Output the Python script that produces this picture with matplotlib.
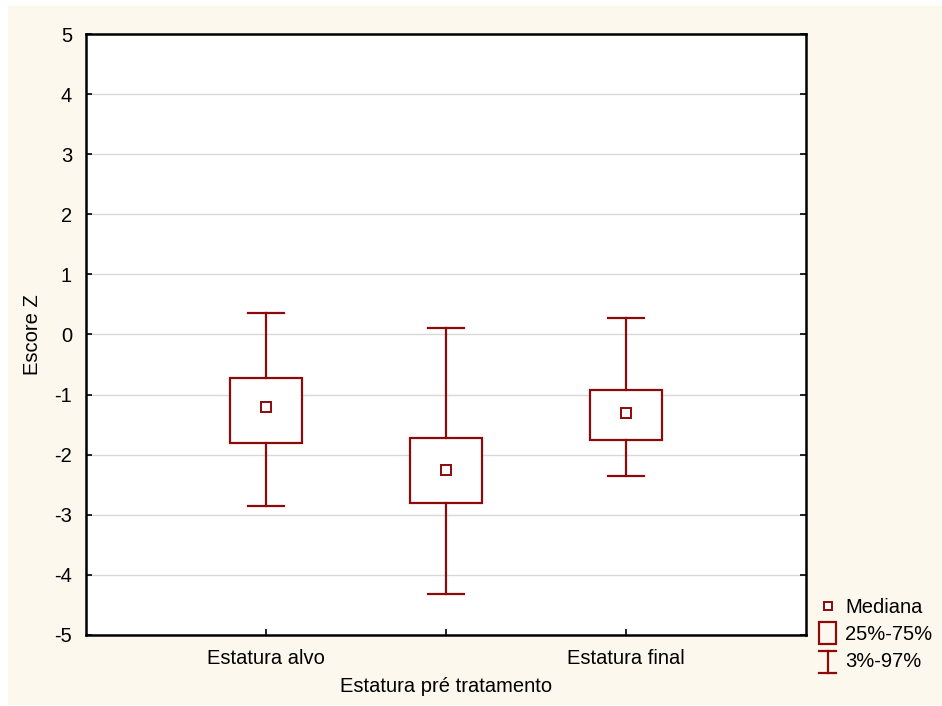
import matplotlib
matplotlib.use("Agg")
import matplotlib.pyplot as plt
import matplotlib.transforms as mtransforms
from matplotlib.patches import Rectangle
from matplotlib.lines import Line2D
from matplotlib.legend_handler import HandlerBase

# data
categories = ["Estatura alvo", "Estatura pré tratamento", "Estatura final"]
medians = [-1.21, -2.26, -1.31]
q25 = [-1.80, -2.80, -1.75]
q75 = [-0.72, -1.73, -0.92]
p03 = [-2.85, -4.31, -2.35]
p97 = [0.36, 0.10, 0.28]

red = "#8B0A0A"
cream = "#FDF8EE"
fs = 14.5

plt.rcParams["font.family"] = ["Liberation Sans", "DejaVu Sans"]
plt.rcParams["axes.unicode_minus"] = False

fig = plt.figure(figsize=(9.42, 7.06), dpi=100, facecolor="white")
fig.patches.append(Rectangle((8 / 942, 1 / 706), 934 / 942, 699 / 706,
                             transform=fig.transFigure, facecolor=cream,
                             edgecolor="none", zorder=-10))
ax = fig.add_axes([86 / 942, 1 - 635 / 706, 720 / 942, 601 / 706])
ax.set_facecolor("white")

pos = [1, 2, 3]
bw = 0.4
cw = 0.2
for x, m, lo, hi, wlo, whi in zip(pos, medians, q25, q75, p03, p97):
    ax.add_patch(Rectangle((x - bw / 2, lo), bw, hi - lo, facecolor="white",
                           edgecolor=red, linewidth=1.6, zorder=3))
    ax.plot([x, x], [hi, whi], color=red, lw=1.6, zorder=3)
    ax.plot([x, x], [wlo, lo], color=red, lw=1.6, zorder=3)
    ax.plot([x - cw / 2, x + cw / 2], [whi, whi], color=red, lw=1.6, zorder=3)
    ax.plot([x - cw / 2, x + cw / 2], [wlo, wlo], color=red, lw=1.6, zorder=3)
ax.plot(pos, medians, ls="none", marker="s", ms=6.5, mfc="white", mec=red,
        mew=1.4, zorder=4)

ax.set_xlim(0, 4)
ax.set_ylim(-5, 5)
ax.set_yticks(range(-5, 6))
ax.set_xticks(pos)
ax.set_xticklabels(categories)
ax.grid(axis="y", color="#d9d9d9", lw=1)
ax.set_axisbelow(True)
ax.tick_params(direction="in", length=4, width=1.2, labelsize=fs, pad=10,
               right=True)
ax.tick_params(axis="x", pad=10)
for s in ax.spines.values():
    s.set_linewidth(1.8)

# stagger the middle label downwards
lab = ax.get_xticklabels()[1]
lab.set_transform(lab.get_transform() +
                  mtransforms.ScaledTranslation(0, -0.28, fig.dpi_scale_trans))

ax.set_ylabel("Escore Z", fontsize=fs, labelpad=9)


class HandlerWhisker(HandlerBase):
    def create_artists(self, legend, orig, xd, yd, w, h, fs, trans):
        cx = xd + w / 2
        lines = [
            Line2D([cx, cx], [yd - 0.45 * h, yd + 1.15 * h]),
            Line2D([xd, xd + w], [yd - 0.45 * h, yd - 0.45 * h]),
            Line2D([xd, xd + w], [yd + 1.15 * h, yd + 1.15 * h]),
        ]
        for ln in lines:
            ln.set_color(red)
            ln.set_linewidth(1.6)
            ln.set_transform(trans)
        return lines


class HandlerBox(HandlerBase):
    def create_artists(self, legend, orig, xd, yd, w, h, fs, trans):
        r = Rectangle((xd, yd - 0.3 * h), w, 1.6 * h, facecolor="none",
                      edgecolor=red, lw=1.6, transform=trans)
        return [r]


h_med = Line2D([], [], ls="none", marker="s", ms=5.5, mfc="white", mec=red, mew=1.4)
h_box = Rectangle((0, 0), 1, 1)
h_whisk = Line2D([], [])
fig.legend([h_med, h_box, h_whisk], ["Mediana", "25%-75%", "3%-97%"],
           handler_map={h_box: HandlerBox(), h_whisk: HandlerWhisker()},
           loc="upper left", bbox_to_anchor=(815 / 942, 1 - 594 / 706),
           borderaxespad=0, frameon=False, fontsize=fs, handlelength=0.85,
           handletextpad=0.45, labelspacing=0.4, borderpad=0.2)

fig.savefig("out.png", dpi=100, facecolor=fig.get_facecolor())
